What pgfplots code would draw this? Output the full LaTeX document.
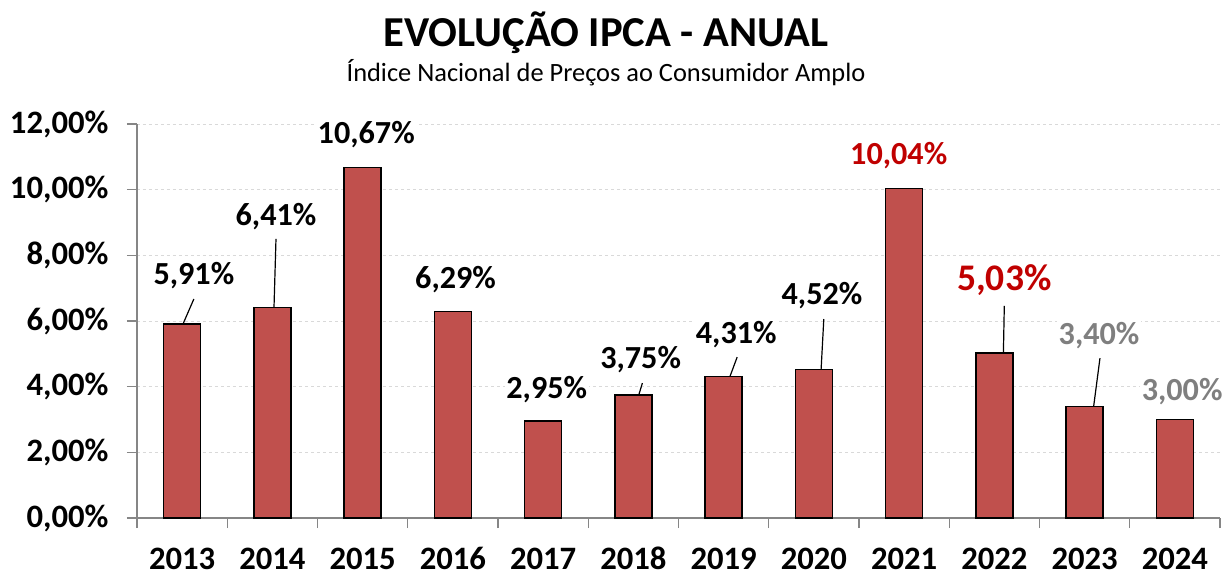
\documentclass[border=0pt]{standalone}
\usepackage{fontspec}
\setmainfont{Carlito}
\usepackage{pgfplots}
\pgfplotsset{compat=1.18}
\definecolor{barred}{HTML}{C0504D}
\definecolor{lblred}{HTML}{C00000}
\definecolor{lblgray}{HTML}{7F7F7F}
\definecolor{axgray}{HTML}{868686}
\definecolor{gridgray}{HTML}{D9D9D9}
\tikzset{
  lbl/.style={font=\fontsize{32.3}{32.3}\selectfont\bfseries, fill=white, inner sep=1.5bp},
  leader/.style={draw=black, line width=1.2bp},
}
\pgfplotstableread{
x y
0 5.91
1 6.41
2 10.67
3 6.29
4 2.95
5 3.75
6 4.31
7 4.52
8 10.04
9 5.03
10 3.40
11 3.00
}\ipca
\begin{document}
\begin{tikzpicture}
\begin{axis}[
  scale only axis, width=1083bp, height=394bp,
  xmin=-0.5, xmax=11.5, ymin=0, ymax=12,
  axis x line*=bottom, axis y line*=left,
  axis line style={axgray, line width=1.2bp},
  xtick={0,...,11},
  xticklabels={2013,2014,2015,2016,2017,2018,2019,2020,2021,2022,2023,2024},
  major x tick style={draw=none},
  minor xtick={-0.5,0.5,...,11.5},
  minor x tick style={draw=axgray, line width=1.2bp},
  ytick={0,2,...,12},
  yticklabels={{0,00\%},{2,00\%},{4,00\%},{6,00\%},{8,00\%},{10,00\%},{12,00\%}},
  major y tick style={draw=axgray, line width=1.2bp},
  tick align=outside,
  major tick length=10bp, minor tick length=10bp,
  ymajorgrids,
  grid style={gridgray, dash pattern=on 3bp off 3bp, line width=0.8bp},
  ticklabel style={font=\fontsize{32.8}{32.8}\selectfont\bfseries},
  yticklabel style={xshift=-15bp},
  xticklabel style={anchor=north, text height=21bp, text depth=0pt, inner sep=0pt, yshift=-20.5bp},
  ybar, bar width=0.41, bar shift=0pt,
  clip=false,
]
\addplot[fill=barred, draw=black, line width=1.5bp] table[x=x,y=y]{\ipca};
\draw[leader] (axis cs:0.01,5.91) -- (axis cs:0.13,6.67);
\draw[leader] (axis cs:1.018,6.41) -- (axis cs:1.04,8.50);
\draw[leader] (axis cs:5.06,3.75) -- (axis cs:5.10,4.11);
\draw[leader] (axis cs:6.07,4.31) -- (axis cs:6.15,4.90);
\draw[leader] (axis cs:7.08,4.52) -- (axis cs:7.11,6.06);
\draw[leader] (axis cs:9.10,5.03) -- (axis cs:9.11,6.46);
\draw[leader] (axis cs:10.10,3.40) -- (axis cs:10.17,4.87);
\node[lbl] at (axis cs:0.13,7.37) {5,91\%};
\node[lbl] at (axis cs:1.04,9.17) {6,41\%};
\node[lbl] at (axis cs:2.04,11.67) {10,67\%};
\node[lbl] at (axis cs:3.03,7.25) {6,29\%};
\node[lbl] at (axis cs:4.04,3.90) {2,95\%};
\node[lbl] at (axis cs:5.08,4.81) {3,75\%};
\node[lbl] at (axis cs:6.14,5.60) {4,31\%};
\node[lbl] at (axis cs:7.09,6.76) {4,52\%};
\node[lbl, text=lblred] at (axis cs:7.94,11.03) {10,04\%};
\node[lbl, text=lblred, font=\fontsize{37.7}{37.7}\selectfont\bfseries] at (axis cs:9.11,7.25) {5,03\%};
\node[lbl, text=lblgray] at (axis cs:10.16,5.57) {3,40\%};
\node[lbl, text=lblgray] at (axis cs:11.08,3.84) {3,00\%};
\end{axis}
\node[font=\fontsize{42.8}{42.8}\selectfont\bfseries] at (469bp,485bp) {EVOLUÇÃO IPCA - ANUAL};
\node[font=\fontsize{26.5}{26.5}\selectfont] at (469bp,445bp) {Índice Nacional de Preços ao Consumidor Amplo};
\pgfresetboundingbox
\useasboundingbox (-137bp,-55bp) rectangle (1086bp,518bp);
\end{tikzpicture}
\end{document}
